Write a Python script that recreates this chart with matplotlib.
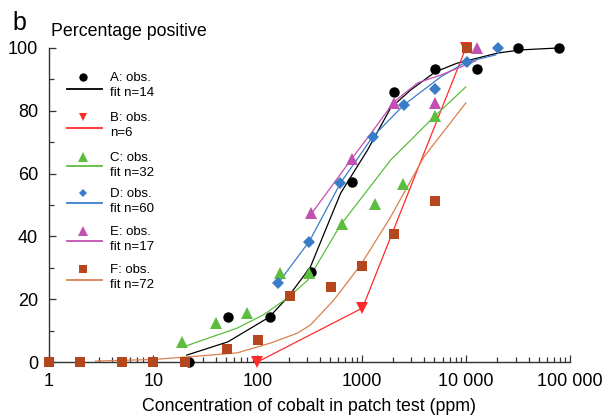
import matplotlib
matplotlib.use("Agg")
import matplotlib.pyplot as plt
from matplotlib.ticker import FixedLocator, FixedFormatter, LogLocator, NullFormatter, MultipleLocator

plt.rcParams['font.family'] = ['Liberation Sans', 'DejaVu Sans']

# ---- observed data ----
A_x = [22, 52, 133, 330, 815, 2040, 5040, 12800, 31600, 78000]
A_y = [0, 14.3, 14.3, 28.7, 57.3, 86, 93.3, 93.3, 100, 100]
B_x = [100, 1020, 10000]
B_y = [0, 17.2, 100]
C_x = [19, 40, 80, 163, 315, 643, 1333, 2520, 5040]
C_y = [6.4, 12.4, 15.6, 28.3, 28.3, 44, 50.3, 56.7, 78.3]
D_x = [159, 316, 627, 1277, 2530, 5040, 10200, 20300]
D_y = [25.2, 38.2, 57, 71.7, 82, 87, 95.5, 100]
E_x = [330, 815, 2040, 5040, 12800]
E_y = [47.5, 64.6, 82.5, 82.5, 100]
F_x = [1, 2, 5, 10, 20, 51, 102, 204, 510, 1020, 2040, 5040, 10200]
F_y = [0, 0, 0, 0, 0, 4.1, 7.0, 21, 23.9, 30.6, 40.8, 51.3, 100]

# ---- fitted curves ----
A_fit_x = [21, 52, 130, 200, 323, 450, 630, 1140, 1900, 2950, 5100, 8300, 20300, 33800, 76500]
A_fit_y = [2.2, 6.4, 14.3, 21, 30.3, 42, 53.8, 67.5, 80.9, 86.6, 92.4, 95.2, 98.4, 99.4, 100]
C_fit_x = [19.4, 30, 64, 114, 195, 303, 627, 1900, 3160, 4920, 10000]
C_fit_y = [4.8, 7.0, 10.8, 15, 20.4, 26, 43.6, 64.3, 71.6, 78, 87.6]
D_fit_x = [159, 316, 627, 1277, 2530, 5750, 10000, 19400]
D_fit_y = [25.2, 38.5, 57, 71.7, 81.8, 90.8, 95.5, 97.8]
E_fit_x = [323, 815, 1300, 2040, 3450, 5760, 12500]
E_fit_y = [46.8, 65, 73.9, 82.8, 88.9, 91.4, 95.9]
F_fit_x = [2.8, 10, 21, 64, 133, 242, 323, 540, 980, 1900, 3960, 10000]
F_fit_y = [0.3, 0.8, 1.6, 2.9, 6, 9.2, 11.8, 19.7, 30.9, 46.2, 65.3, 82.5]

x_ticks = [1, 10, 100, 1000, 10000, 100000]
x_ticklabels = ['1', '10', '100', '1000', '10 000', '100 000']
y_ticks = [0, 20, 40, 60, 80, 100]

cA, cB, cC, cD, cE, cF, cFl = '#000000', '#ff2a2a', '#5cbd3e', '#3b7cc8', '#c250b0', '#b5471f', '#d9804f'

W, H = 603, 419
fig = plt.figure(figsize=(W / 100, H / 100), dpi=100)
ax = fig.add_axes([49 / W, (H - 362) / H, (570 - 49) / W, (362 - 48) / H])

lw = 0.9
ax.plot(A_fit_x, A_fit_y, color=cA, lw=lw, clip_on=False)
ax.plot(B_x, B_y, color=cB, lw=lw, clip_on=False)
ax.plot(C_fit_x, C_fit_y, color=cC, lw=lw, clip_on=False)
ax.plot(D_fit_x, D_fit_y, color=cD, lw=lw, clip_on=False)
ax.plot(E_fit_x, E_fit_y, color=cE, lw=lw, clip_on=False)
ax.plot(F_fit_x, F_fit_y, color=cFl, lw=lw, clip_on=False)

ax.plot(A_x, A_y, 'o', color=cA, ms=7.5, mew=0, clip_on=False, zorder=3)
ax.plot(B_x, B_y, 'v', color=cB, ms=8, mew=0, clip_on=False, zorder=3)
ax.plot(C_x, C_y, '^', color=cC, ms=8.5, mew=0, clip_on=False, zorder=3)
ax.plot(D_x, D_y, 'D', color=cD, ms=6, mew=0, clip_on=False, zorder=3)
ax.plot(E_x, E_y, '^', color=cE, ms=8.5, mew=0, clip_on=False, zorder=3)
ax.plot(F_x, F_y, 's', color=cF, ms=7.5, mew=0, clip_on=False, zorder=3)

ax.set_xscale('log')
ax.set_xlim(1, 100000)
ax.set_ylim(0, 100)
ax.xaxis.set_major_locator(FixedLocator(x_ticks))
ax.xaxis.set_major_formatter(FixedFormatter(x_ticklabels))
ax.xaxis.set_minor_locator(LogLocator(base=10, subs=range(2, 10)))
ax.xaxis.set_minor_formatter(NullFormatter())
ax.yaxis.set_major_locator(FixedLocator(y_ticks))
ax.yaxis.set_minor_locator(MultipleLocator(10))

for s in ['top', 'right']:
    ax.spines[s].set_visible(False)
for s in ['left', 'bottom']:
    ax.spines[s].set_linewidth(1.0)
    ax.spines[s].set_color('#333333')

ax.tick_params(which='both', direction='in', color='#333333', width=0.9)
ax.tick_params(which='major', length=5, labelsize=13, pad=8)
ax.tick_params(which='minor', length=3.5)
ax.tick_params(axis='x', which='major', pad=8)

ax.set_xlabel('Concentration of cobalt in patch test (ppm)', fontsize=12.8, labelpad=6)

fig.text(51 / W, 1 - 36 / H, 'Percentage positive', fontsize=12.8, ha='left', va='baseline')
fig.text(12 / W, 1 - 30 / H, 'b', fontsize=18, ha='left', va='baseline')

# ---- custom legend ----
leg_entries = [
    ('o', cA, cA, 77, 89, 'A: obs.', 'fit n=14', 6),
    ('v', cB, cB, 117, 128, 'B: obs.', 'n=6', 6),
    ('^', cC, cC, 157, 166, 'C: obs.', 'fit n=32', 6.5),
    ('D', cD, cD, 193, 203, 'D: obs.', 'fit n=60', 4.5),
    ('^', cE, cE, 231, 241, 'E: obs.', 'fit n=17', 6.5),
    ('s', cF, cFl, 269, 280, 'F: obs.', 'fit n=72', 6),
]
for m, mc, lc, my, ly, t1, t2, ms in leg_entries:
    fig.add_artist(plt.Line2D([83 / W], [1 - my / H], marker=m, color=mc, ms=ms, mew=0,
                              transform=fig.transFigure))
    fig.add_artist(plt.Line2D([67 / W, 102 / W], [1 - ly / H, 1 - ly / H], color=lc, lw=1.3,
                              transform=fig.transFigure))
    fig.text(110 / W, 1 - (my + 1) / H, t1, fontsize=9.5, ha='left', va='center')
    fig.text(110 / W, 1 - (my + 16) / H, t2, fontsize=9.5, ha='left', va='center')

fig.savefig('out.png', dpi=100)
